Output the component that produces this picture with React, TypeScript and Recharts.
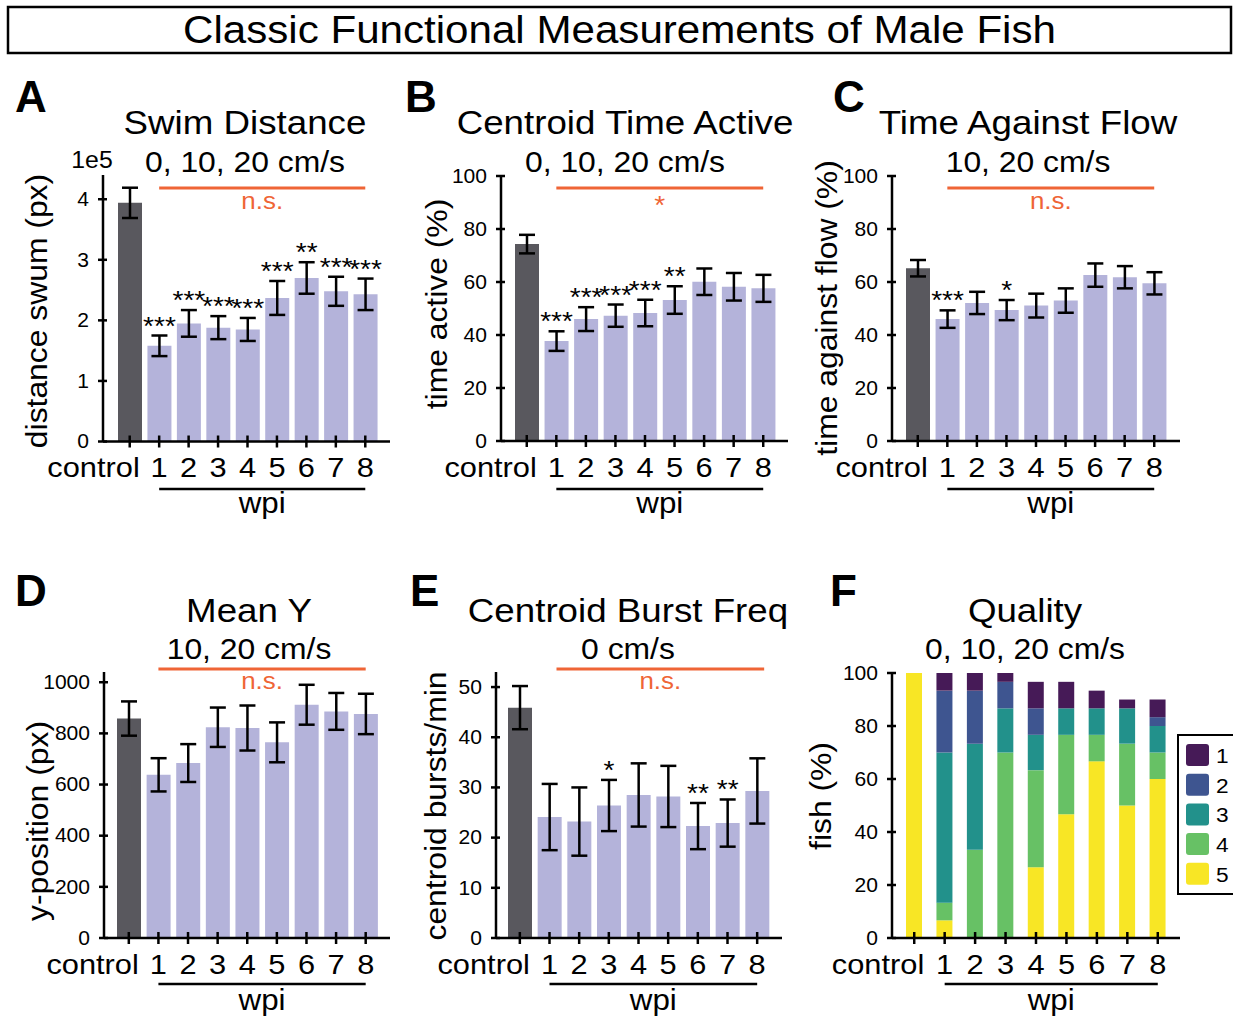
import { BarChart, Bar, XAxis, YAxis, ErrorBar, Cell, LabelList, Legend } from 'recharts';

const groups = ['control', '1', '2', '3', '4', '5', '6', '7', '8'];

// A: swim distance, in units of 1e5 px
const swimDistance = [3.94, 1.58, 1.95, 1.88, 1.85, 2.37, 2.7, 2.48, 2.43];
const swimDistanceSem = [0.25, 0.17, 0.22, 0.19, 0.19, 0.28, 0.26, 0.24, 0.26];
const swimDistanceSig = ['', '***', '***', '***', '***', '***', '**', '***', '***'];

// B: centroid time active (%)
const timeActive = [74.3, 37.7, 46.0, 47.3, 48.3, 53.2, 60.1, 58.2, 57.6];
const timeActiveSem = [3.5, 3.7, 4.5, 4.2, 5.0, 5.2, 5.0, 5.2, 5.1];
const timeActiveSig = ['', '***', '***', '***', '***', '**', '', '', ''];

// C: time against flow (%)
const againstFlow = [65.2, 46.0, 52.1, 49.4, 51.1, 53.0, 62.6, 61.8, 59.5];
const againstFlowSem = [3.1, 3.3, 4.2, 3.8, 4.5, 4.6, 4.4, 4.2, 4.2];
const againstFlowSig = ['', '***', '', '*', '', '', '', '', ''];

// D: mean y-position (px)
const meanY = [858, 638, 684, 824, 821, 765, 912, 886, 876];
const meanYSem = [67, 65, 74, 77, 88, 78, 78, 72, 79];

// E: centroid bursts per minute
const burstFreq = [45.9, 24.1, 23.2, 26.4, 28.5, 28.2, 22.3, 22.9, 29.3];
const burstFreqSem = [4.3, 6.6, 6.8, 5.1, 6.3, 6.1, 4.6, 4.7, 6.5];
const burstFreqSig = ['', '', '', '*', '', '', '**', '**', ''];

// F: quality score distribution (% of fish), score 5 at the bottom of each stack
const quality5 = [100, 6.67, 0, 0, 26.67, 46.67, 66.67, 50, 60];
const quality4 = [0, 6.67, 33.33, 70, 36.67, 30, 10, 23.33, 10];
const quality3 = [0, 56.67, 40, 16.67, 13.33, 10, 10, 13.33, 10];
const quality2 = [0, 23.33, 20, 10, 10, 0, 0, 0, 3.33];
const quality1 = [0, 6.67, 6.67, 3.33, 10, 10, 6.67, 3.33, 6.67];

const ticksSwim = [0, 1, 2, 3, 4];
const ticksPct = [0, 20, 40, 60, 80, 100];
const ticksMeanY = [0, 200, 400, 600, 800, 1000];
const ticksBurst = [0, 10, 20, 30, 40, 50];

const FONT = '"Liberation Sans", Arial, Helvetica, sans-serif';
const SX = 1.08; // text in this figure runs slightly wide
const DARK = '#59585e';
const LAVENDER = '#b4b3da';
const ORANGE = '#ef6536';
const QCOLORS: Record<string, string> = {
  q1: '#461a57',
  q2: '#3e5590',
  q3: '#22918b',
  q4: '#67c165',
  q5: '#f8e625',
};

type Geo = { left: number; top: number; right: number; bottom: number; padL: number; padR: number };

const geoA: Geo = { left: 103, top: 175, right: 390, bottom: 441.5, padL: 12, padR: 10 };
const geoB: Geo = { left: 501, top: 176, right: 788, bottom: 441, padL: 11, padR: 10 };
const geoC: Geo = { left: 892, top: 176, right: 1180, bottom: 441, padL: 11, padR: 11 };
const geoD: Geo = { left: 104, top: 672, right: 390, bottom: 938, padL: 10, padR: 9.5 };
const geoE: Geo = { left: 496, top: 672, right: 782, bottom: 938, padL: 9, padR: 10 };
const geoF: Geo = { left: 892, top: 673, right: 1180, bottom: 938, padL: 7, padR: 7 };

const PAD_LEFT = 90;
const PAD_TOP = 40;
const PAD_RIGHT = 10;
const PAD_BOTTOM = 50;
const Y_AXIS_W = 60;

const axisLine = { stroke: '#000', strokeWidth: 2.5 };

function YTick(props: any) {
  const { x, y, payload } = props;
  return (
    <g>
      <line x1={x - 5} x2={x + 4} y1={y} y2={y} stroke="#000" strokeWidth={2.5} />
      <text
        transform={`translate(${x - 14},${y}) scale(${SX},1)`}
        textAnchor="end"
        dominantBaseline="central"
        fontSize={19.5}
        fill="#000"
      >
        {payload.value}
      </text>
    </g>
  );
}

// the long "control" label ends just right of its tick instead of centring on it
function XTick(props: any) {
  const { x, y, payload, index } = props;
  const first = index === 0;
  return (
    <g>
      <line x1={x} x2={x} y1={y - 6} y2={y + 6} stroke="#000" strokeWidth={2.5} />
      <text
        transform={`translate(${first ? x + 10 : x},${y + 35.5}) scale(${SX},1)`}
        textAnchor={first ? 'end' : 'middle'}
        fontSize={28.5}
        fill="#000"
      >
        {payload.value}
      </text>
    </g>
  );
}

type Row = { name: string; value: number; err: number; sig: string };

// significance stars sit just above the top of each error bar
const starLabel = (rows: Row[]) => (p: any) => {
  const vb = p.viewBox ?? p;
  const row = rows[p.index];
  if (!row || !row.sig) return null;
  const perUnit = Math.abs(vb.height) / row.value;
  const errTop = Math.min(vb.y, vb.y + vb.height) - row.err * perUnit;
  return (
    <text
      transform={`translate(${vb.x + vb.width / 2},${errTop - 1}) scale(${SX},1)`}
      textAnchor="middle"
      fontSize={26}
      fill="#000"
    >
      {row.sig}
    </text>
  );
};

function chartBox(geo: Geo) {
  return {
    w: geo.right - geo.left + PAD_LEFT + PAD_RIGHT,
    h: geo.bottom - geo.top + PAD_TOP + PAD_BOTTOM,
    x: geo.left - PAD_LEFT,
    y: geo.top - PAD_TOP,
  };
}

function BarPanel(props: {
  geo: Geo;
  values: number[];
  errs: number[];
  sig?: string[];
  domain: [number, number];
  ticks: number[];
}) {
  const { geo, values, errs, sig, domain, ticks } = props;
  const rows: Row[] = groups.map((name, i) => ({ name, value: values[i], err: errs[i], sig: sig ? sig[i] : '' }));
  const box = chartBox(geo);
  return (
    <div style={{ position: 'absolute', left: box.x, top: box.y }}>
      <BarChart
        width={box.w}
        height={box.h}
        data={rows}
        margin={{ top: PAD_TOP, right: PAD_RIGHT, bottom: 0, left: PAD_LEFT - Y_AXIS_W }}
      >
        <XAxis
          dataKey="name"
          height={PAD_BOTTOM}
          padding={{ left: geo.padL, right: geo.padR }}
          axisLine={axisLine}
          tickLine={false}
          tickSize={0}
          tickMargin={0}
          tick={<XTick />}
          interval={0}
        />
        <YAxis
          width={Y_AXIS_W}
          domain={domain}
          ticks={ticks}
          allowDataOverflow
          axisLine={axisLine}
          tickLine={false}
          tickSize={0}
          tickMargin={0}
          tick={<YTick />}
          interval={0}
        />
        <Bar dataKey="value" barSize={24} isAnimationActive={false}>
          {rows.map((r, i) => (
            <Cell key={r.name} fill={i === 0 ? DARK : LAVENDER} />
          ))}
          <ErrorBar dataKey="err" width={8} stroke="#000" strokeWidth={2.5} isAnimationActive={false} />
          <LabelList dataKey="sig" content={starLabel(rows)} />
        </Bar>
      </BarChart>
    </div>
  );
}

const renderQualityLegend = (p: any) => {
  const items = [...(p.payload ?? [])].sort((a: any, b: any) => String(a.value).localeCompare(String(b.value)));
  return (
    <svg width={90} height={162} style={{ display: 'block' }}>
      <rect x={1} y={1} width={110} height={159} fill="#fff" stroke="#000" strokeWidth={2} />
      {items.map((it: any, i: number) => (
        <g key={it.value}>
          <rect x={9} y={10 + i * 29.7} width={23} height={22} rx={3} fill={it.color} />
          <text transform={`translate(39,${29 + i * 29.7}) scale(${SX},1)`} fontSize={21} fill="#000">
            {it.value}
          </text>
        </g>
      ))}
    </svg>
  );
};

function QualityPanel({ geo }: { geo: Geo }) {
  const rows = groups.map((name, i) => ({
    name,
    q5: quality5[i],
    q4: quality4[i],
    q3: quality3[i],
    q2: quality2[i],
    q1: quality1[i],
  }));
  const box = chartBox(geo);
  const stackKeys = ['q5', 'q4', 'q3', 'q2', 'q1'];
  return (
    <div style={{ position: 'absolute', left: box.x, top: box.y }}>
      <BarChart
        width={box.w}
        height={box.h}
        data={rows}
        margin={{ top: PAD_TOP, right: PAD_RIGHT, bottom: 0, left: PAD_LEFT - Y_AXIS_W }}
      >
        <XAxis
          dataKey="name"
          height={PAD_BOTTOM}
          padding={{ left: geo.padL, right: geo.padR }}
          axisLine={axisLine}
          tickLine={false}
          tickSize={0}
          tickMargin={0}
          tick={<XTick />}
          interval={0}
        />
        <YAxis
          width={Y_AXIS_W}
          domain={[0, 100]}
          ticks={ticksPct}
          allowDataOverflow
          axisLine={axisLine}
          tickLine={false}
          tickSize={0}
          tickMargin={0}
          tick={<YTick />}
          interval={0}
        />
        <Legend
          layout="vertical"
          align="center"
          verticalAlign="middle"
          content={renderQualityLegend}
          wrapperStyle={{ left: 1177 - box.x, top: 734 - box.y, width: 90, height: 162 }}
        />
        {stackKeys.map((k) => (
          <Bar
            key={k}
            dataKey={k}
            name={k.slice(1)}
            stackId="quality"
            fill={QCOLORS[k]}
            barSize={16}
            isAnimationActive={false}
          />
        ))}
      </BarChart>
    </div>
  );
}

function T(props: {
  x: number;
  y: number;
  size: number;
  children: any;
  anchor?: 'start' | 'middle' | 'end';
  fill?: string;
  bold?: boolean;
  vertical?: boolean;
  sx?: number;
}) {
  const { x, y, size, children, anchor = 'middle', fill = '#000', bold, vertical, sx = SX } = props;
  return (
    <text
      transform={`translate(${x},${y})${vertical ? ' rotate(-90)' : ''} scale(${sx},1)`}
      textAnchor={anchor}
      dominantBaseline={vertical ? 'central' : undefined}
      fontSize={size}
      fontWeight={bold ? 700 : 400}
      fill={fill}
    >
      {children}
    </text>
  );
}

const catCenter = (g: Geo, i: number) => {
  const band = (g.right - g.left - g.padL - g.padR) / groups.length;
  return g.left + g.padL + band * (i + 0.5);
};

const ROWS = [
  { letter: 112, title: 134, sub: 172, orange: 188, note: 209, wpiLine: 489, wpi: 512.5 },
  { letter: 606, title: 622, sub: 659, orange: 669, note: 689, wpiLine: 984, wpi: 1010 },
];

// shift: the significance bracket over panel E sits a few px right of the wpi bracket
const panels = [
  { geo: geoA, row: 0, letter: 'A', lx: 15, title: 'Swim Distance', tx: 245, sub: '0, 10, 20 cm/s', note: 'n.s.', shift: 0, ylabel: 'distance swum (px)', yl: [37, 311] },
  { geo: geoB, row: 0, letter: 'B', lx: 405, title: 'Centroid Time Active', tx: 625, sub: '0, 10, 20 cm/s', note: '*', shift: 0, ylabel: 'time active (%)', yl: [437, 304] },
  { geo: geoC, row: 0, letter: 'C', lx: 833, title: 'Time Against Flow', tx: 1028, sub: '10, 20 cm/s', note: 'n.s.', shift: 0, ylabel: 'time against flow (%)', yl: [827, 308] },
  { geo: geoD, row: 1, letter: 'D', lx: 15, title: 'Mean Y', tx: 249, sub: '10, 20 cm/s', note: 'n.s.', shift: 0, ylabel: 'y-position (px)', yl: [38, 821] },
  { geo: geoE, row: 1, letter: 'E', lx: 410, title: 'Centroid Burst Freq', tx: 628, sub: '0 cm/s', note: 'n.s.', shift: 7, ylabel: 'centroid bursts/min', yl: [436, 806] },
  { geo: geoF, row: 1, letter: 'F', lx: 830, title: 'Quality', tx: 1025, sub: '0, 10, 20 cm/s', note: '', shift: 0, ylabel: 'fish (%)', yl: [821, 796] },
];

export default function App() {
  return (
    <div
      style={{
        position: 'absolute',
        left: 0,
        top: 0,
        width: 1233,
        height: 1019,
        overflow: 'hidden',
        background: '#fff',
        fontFamily: FONT,
      }}
    >
      <BarPanel geo={geoA} values={swimDistance} errs={swimDistanceSem} sig={swimDistanceSig} domain={[0, 4.4]} ticks={ticksSwim} />
      <BarPanel geo={geoB} values={timeActive} errs={timeActiveSem} sig={timeActiveSig} domain={[0, 100]} ticks={ticksPct} />
      <BarPanel geo={geoC} values={againstFlow} errs={againstFlowSem} sig={againstFlowSig} domain={[0, 100]} ticks={ticksPct} />
      <BarPanel geo={geoD} values={meanY} errs={meanYSem} domain={[0, 1040]} ticks={ticksMeanY} />
      <BarPanel geo={geoE} values={burstFreq} errs={burstFreqSem} sig={burstFreqSig} domain={[0, 53]} ticks={ticksBurst} />
      <QualityPanel geo={geoF} />

      <svg
        width={1233}
        height={1019}
        style={{ position: 'absolute', left: 0, top: 0, pointerEvents: 'none', fontFamily: FONT }}
      >
        <rect x={8} y={7} width={1223} height={46} fill="none" stroke="#000" strokeWidth={2.5} />
        <T x={619.5} y={43} size={39}>
          Classic Functional Measurements of Male Fish
        </T>
        <T x={92} y={168} size={23}>
          1e5
        </T>
        {panels.map((p) => {
          const r = ROWS[p.row];
          const x1 = catCenter(p.geo, 1);
          const x8 = catCenter(p.geo, 8);
          const mid = (x1 + x8) / 2;
          return (
            <g key={p.letter}>
              <T x={p.lx} y={r.letter} size={44} anchor="start" bold sx={1}>
                {p.letter}
              </T>
              <T x={p.tx} y={r.title} size={34}>
                {p.title}
              </T>
              <T x={p.tx} y={r.sub} size={29.5}>
                {p.sub}
              </T>
              {p.note && (
                <line x1={x1 + p.shift} x2={x8 + p.shift} y1={r.orange} y2={r.orange} stroke={ORANGE} strokeWidth={3} />
              )}
              {p.note && (
                <T
                  x={mid + p.shift}
                  y={p.note === '*' ? r.note + 5 : r.note}
                  size={p.note === '*' ? 26 : 24}
                  fill={ORANGE}
                >
                  {p.note}
                </T>
              )}
              <line x1={x1} x2={x8} y1={r.wpiLine} y2={r.wpiLine} stroke="#000" strokeWidth={2.5} />
              <T x={mid} y={r.wpi} size={29}>
                wpi
              </T>
              <T x={p.yl[0]} y={p.yl[1]} size={29.5} vertical>
                {p.ylabel}
              </T>
            </g>
          );
        })}
      </svg>
    </div>
  );
}
